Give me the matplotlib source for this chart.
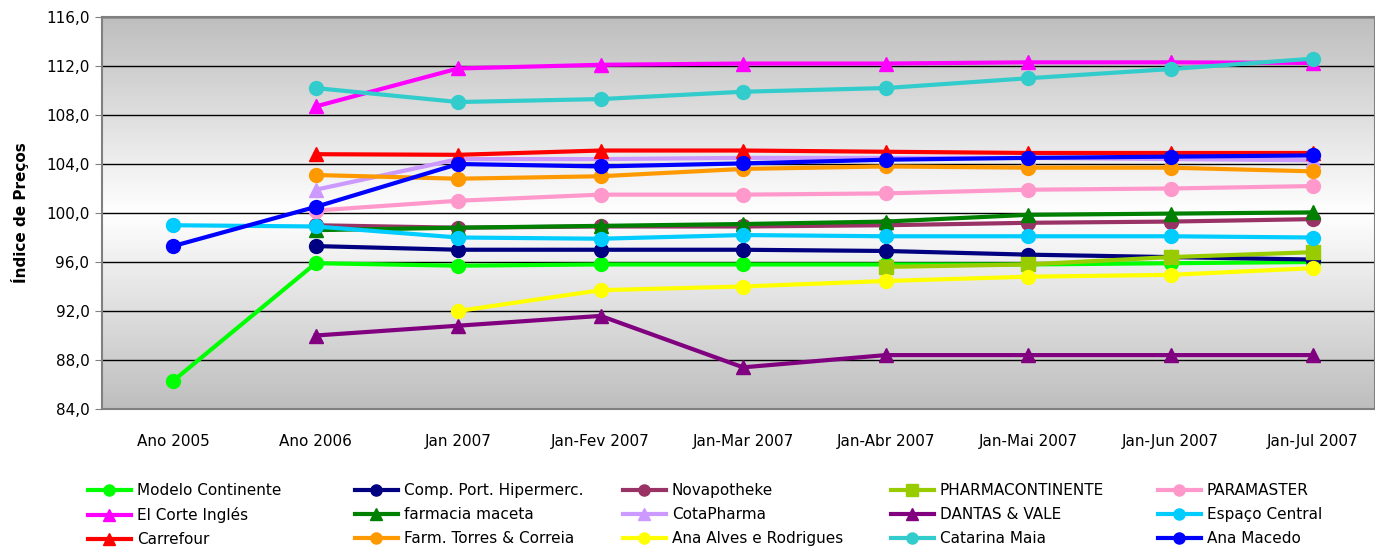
import matplotlib
matplotlib.use("Agg")
import matplotlib.pyplot as plt
import numpy as np
from matplotlib.colors import LinearSegmentedColormap

nan = np.nan

categories = ["Ano 2005", "Ano 2006", "Jan 2007", "Jan-Fev 2007", "Jan-Mar 2007",
              "Jan-Abr 2007", "Jan-Mai 2007", "Jan-Jun 2007", "Jan-Jul 2007"]

modelo_continente = [86.3, 95.9, 95.7, 95.8, 95.8, 95.8, 95.8, 95.9, 96.0]
comp_port_hipermerc = [nan, 97.3, 97.0, 97.0, 97.0, 96.9, 96.6, 96.4, 96.2]
novapotheke = [nan, 99.0, 98.8, 98.9, 98.9, 99.0, 99.2, 99.3, 99.5]
pharmacontinente = [nan, nan, nan, nan, nan, 95.6, 95.8, 96.4, 96.8]
paramaster = [nan, 100.2, 101.0, 101.5, 101.5, 101.6, 101.9, 102.0, 102.2]
el_corte_ingles = [nan, 108.7, 111.8, 112.1, 112.2, 112.2, 112.3, 112.3, 112.25]
farmacia_maceta = [nan, 98.6, 98.8, 98.95, 99.1, 99.3, 99.85, 99.95, 100.05]
cotapharma = [nan, 101.9, 104.4, 104.4, 104.5, 104.5, 104.5, 104.4, 104.3]
dantas_vale = [nan, 90.0, 90.8, 91.6, 87.4, 88.4, 88.4, 88.4, 88.4]
espaco_central = [99.0, 98.9, 98.0, 97.9, 98.2, 98.1, 98.1, 98.1, 98.0]
carrefour = [nan, 104.8, 104.75, 105.1, 105.1, 105.0, 104.9, 104.9, 104.9]
farm_torres_correia = [nan, 103.1, 102.8, 103.0, 103.6, 103.8, 103.7, 103.7, 103.4]
ana_alves_rodrigues = [nan, nan, 92.0, 93.7, 94.0, 94.45, 94.8, 94.95, 95.5]
catarina_maia = [nan, 110.2, 109.06, 109.3, 109.9, 110.2, 111.0, 111.75, 112.6]
ana_macedo = [97.3, 100.5, 104.0, 103.8, 104.05, 104.35, 104.5, 104.6, 104.7]

names = ["Modelo Continente", "Comp. Port. Hipermerc.", "Novapotheke", "PHARMACONTINENTE",
         "PARAMASTER", "El Corte Inglés", "farmacia maceta", "CotaPharma", "DANTAS & VALE",
         "Espaço Central", "Carrefour", "Farm. Torres & Correia", "Ana Alves e Rodrigues",
         "Catarina Maia", "Ana Macedo"]
series = [modelo_continente, comp_port_hipermerc, novapotheke, pharmacontinente, paramaster,
          el_corte_ingles, farmacia_maceta, cotapharma, dantas_vale, espaco_central,
          carrefour, farm_torres_correia, ana_alves_rodrigues, catarina_maia, ana_macedo]
colors = ["#00FF00", "#000080", "#993366", "#99CC00", "#FF99CC",
          "#FF00FF", "#008000", "#CC99FF", "#800080", "#00CCFF",
          "#FF0000", "#FF9900", "#FFFF00", "#33CCCC", "#0000FF"]
markers = ["o", "o", "o", "s", "o",
           "^", "^", "^", "^", "o",
           "^", "o", "o", "o", "o"]

fig = plt.figure(figsize=(13.75, 5.47), dpi=100)
W, H = 1375, 547
ax = fig.add_axes([102 / W, 1 - 409 / H, (1375 - 102) / W, (409 - 17) / H])

# grey -> white -> grey background
cmap = LinearSegmentedColormap.from_list("bg", ["#BEBEBE", "#FFFFFF", "#BEBEBE"])
grad = np.linspace(0, 1, 256).reshape(-1, 1)
ax.imshow(grad, cmap=cmap, aspect="auto", extent=[0, 1, 0, 1],
          transform=ax.transAxes, zorder=0)

x = np.arange(len(categories))
handles = []
for vals, name, c, m in zip(series, names, colors, markers):
    ms = 10 if m != "s" else 9.5
    h, = ax.plot(x, vals, color=c, marker=m, markersize=ms, linewidth=3,
                 markeredgecolor=c, label=name, zorder=3)
    handles.append(h)

ax.set_xlim(-0.5, 8 + (1375 - 1313) / 142.5)
ax.set_ylim(84, 116)
ax.set_yticks(np.arange(84, 117, 4))
ax.set_yticklabels([f"{v:.1f}".replace(".", ",") for v in np.arange(84, 117, 4)], fontsize=11)
ax.set_xticks(x)
ax.set_xticklabels(categories, fontsize=11)
ax.tick_params(axis="x", length=0, pad=18)
ax.tick_params(axis="y", length=5, color="#808080", pad=4)
ax.yaxis.grid(True, color="black", linewidth=1, zorder=1)
ax.set_axisbelow(True)
for s in ax.spines.values():
    s.set_color("#808080")
    s.set_linewidth(1.5)
ax.set_ylabel("Índice de Preços", fontsize=11, fontweight="bold", labelpad=12)

# legend: 5 columns filled row by row, one legend per column
col_x = [88, 355, 623, 891, 1158]
for c in range(5):
    idx = [r * 5 + c for r in range(3)]
    leg = fig.legend([handles[i] for i in idx], [names[i] for i in idx],
                     loc="upper left", bbox_to_anchor=(col_x[c] / W, 1 - 483 / H),
                     frameon=False, fontsize=11, handlelength=2.8,
                     labelspacing=0.6, handletextpad=0.4, borderpad=0,
                     borderaxespad=0)
    for lh in leg.legend_handles:
        lh.set_markersize(8)

fig.savefig("out.png", dpi=100)
